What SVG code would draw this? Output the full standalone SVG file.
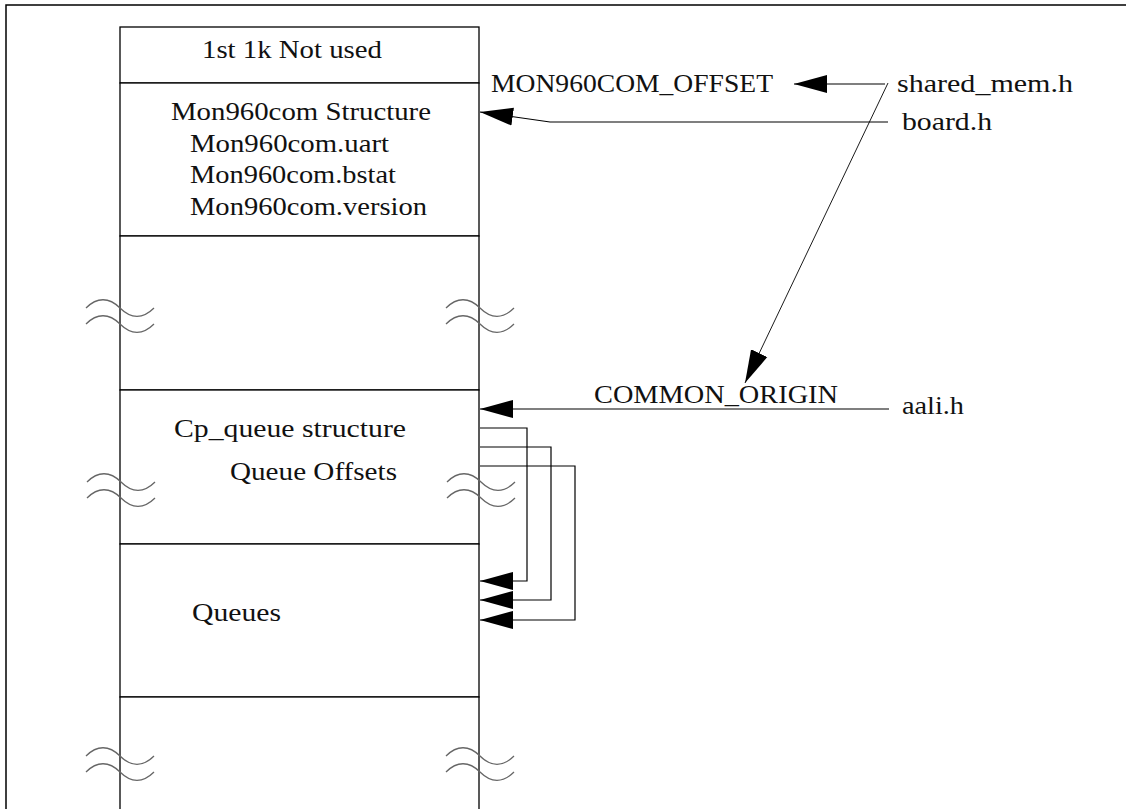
<svg xmlns="http://www.w3.org/2000/svg" width="1127" height="809" viewBox="0 0 1127 809">
  <style>
    .frame { fill: none; stroke: #000; stroke-width: 1.5; }
    .block { fill: #fff; stroke: #000; stroke-width: 1.3; }
    .lbl { font-family: "Liberation Serif", "Times New Roman", serif; font-size: 26px; fill: #111; }
    .wire { fill: none; stroke: #000; stroke-width: 1.2; marker-end: url(#ah); }
    .thin { stroke-width: 0.9; }
    .brk { fill: none; stroke: #666; stroke-width: 1.3; }
  </style>
  <defs>
    <marker id="ah" markerUnits="userSpaceOnUse" markerWidth="34" markerHeight="20" viewBox="0 0 34 20" refX="33" refY="10" orient="auto">
      <path d="M0,1 L33,10 L0,19 Z" fill="#000"/>
    </marker>
    <!-- one break mark: a single sine period, 68 wide -->
    <path id="wave" d="M0,0 C11,-11 23,-11 34,0 S57,11 68,0"/>
  </defs>

  <rect width="1127" height="809" fill="#fff"/>

  <!-- page frame (top and left edges only) -->
  <path class="frame" d="M6,809 V5 H1126"/>

  <!-- memory map blocks -->
  <g id="block-unused">
    <rect class="block" x="120" y="27" width="359" height="56"/>
    <text class="lbl" x="202" y="58" textLength="180" lengthAdjust="spacingAndGlyphs">1st 1k Not used</text>
  </g>
  <g id="block-mon960com">
    <rect class="block" x="120" y="83" width="359" height="153"/>
    <text class="lbl" x="171" y="120" textLength="260" lengthAdjust="spacingAndGlyphs">Mon960com Structure</text>
    <text class="lbl" x="190" y="152" textLength="199" lengthAdjust="spacingAndGlyphs">Mon960com.uart</text>
    <text class="lbl" x="190" y="183" textLength="206" lengthAdjust="spacingAndGlyphs">Mon960com.bstat</text>
    <text class="lbl" x="190" y="215" textLength="237" lengthAdjust="spacingAndGlyphs">Mon960com.version</text>
  </g>
  <g id="block-gap-upper">
    <rect class="block" x="120" y="236" width="359" height="154"/>
  </g>
  <g id="block-cp-queue">
    <rect class="block" x="120" y="390" width="359" height="154"/>
    <text class="lbl" x="174" y="437" textLength="232" lengthAdjust="spacingAndGlyphs">Cp_queue structure</text>
    <text class="lbl" x="230" y="480" textLength="167" lengthAdjust="spacingAndGlyphs">Queue Offsets</text>
  </g>
  <g id="block-queues">
    <rect class="block" x="120" y="544" width="359" height="153"/>
    <text class="lbl" x="192" y="621" textLength="89" lengthAdjust="spacingAndGlyphs">Queues</text>
  </g>
  <g id="block-gap-lower">
    <rect class="block" x="120" y="697" width="359" height="130"/>
  </g>

  <!-- break marks across the column edges -->
  <g id="breaks" class="brk">
    <use href="#wave" x="86" y="308"/>
    <use href="#wave" x="86" y="324"/>
    <use href="#wave" x="446" y="308"/>
    <use href="#wave" x="446" y="324"/>
    <use href="#wave" x="87" y="482"/>
    <use href="#wave" x="87" y="498"/>
    <use href="#wave" x="447" y="482"/>
    <use href="#wave" x="447" y="498"/>
    <use href="#wave" x="86" y="756"/>
    <use href="#wave" x="86" y="772"/>
    <use href="#wave" x="446" y="756"/>
    <use href="#wave" x="446" y="772"/>
  </g>

  <!-- header files and symbols -->
  <g id="sym-offset">
    <text class="lbl" x="491" y="92" textLength="282" lengthAdjust="spacingAndGlyphs">MON960COM_OFFSET</text>
  </g>
  <g id="sym-origin">
    <text class="lbl" x="594" y="403" textLength="244" lengthAdjust="spacingAndGlyphs">COMMON_ORIGIN</text>
  </g>
  <g id="file-shared-mem">
    <text class="lbl" x="897" y="92" textLength="176" lengthAdjust="spacingAndGlyphs">shared_mem.h</text>
  </g>
  <g id="file-board">
    <text class="lbl" x="902" y="130" textLength="90" lengthAdjust="spacingAndGlyphs">board.h</text>
  </g>
  <g id="file-aali">
    <text class="lbl" x="902" y="414" textLength="62" lengthAdjust="spacingAndGlyphs">aali.h</text>
  </g>

  <!-- connectors -->
  <g id="connectors">
    <path class="wire" d="M885,84 H794"/>
    <path class="wire thin" d="M888,83 L745,383"/>
    <path class="wire" d="M888,122 H550 L480,112"/>
    <path class="wire" d="M889,409 H480"/>
    <path class="wire" d="M480,428 H527 V581 H480"/>
    <path class="wire" d="M480,447 H551 V600 H480"/>
    <path class="wire" d="M480,466 H575 V620 H480"/>
  </g>
</svg>
